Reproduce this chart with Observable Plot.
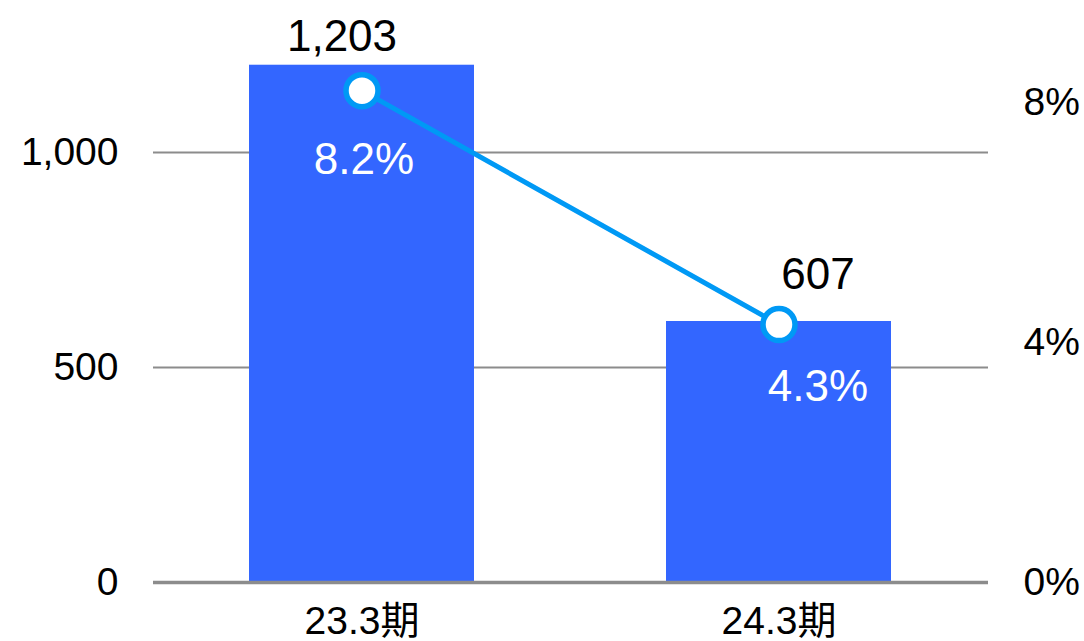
<!DOCTYPE html>
<html>
<head>
<meta charset="utf-8">
<script src="https://cdn.jsdelivr.net/npm/d3@7"></script>
<script src="https://cdn.jsdelivr.net/npm/@observablehq/plot@0.6"></script>
<style>
  html, body { margin: 0; padding: 0; background: #fff; }
</style>
</head>
<body>
<div id="chart"></div>
<script>
// Data
const periods = ["23.3期", "24.3期"];
const profit = [1203, 607];          // left axis (bars)
const marginPct = [8.2, 4.3];        // right axis (line, %)
const leftTicks = [0, 500, 1000];
const pctTicks = [0, 4, 8];

// secondary axis mapping: left units per 1%
const k = 139.5;

const data = periods.map((p, i) => ({
  period: p,
  value: profit[i],
  pct: marginPct[i],
  pctY: marginPct[i] * k
}));

const fmt = d3.format(",");
const blue = "#3366FF";
const sky = "#0099F5";

const chart = Plot.plot({
  width: 1084,
  height: 641,
  marginLeft: 153,
  marginRight: 96,
  marginTop: 20,
  marginBottom: 59,
  style: {
    fontFamily: "'Liberation Sans', Arial, 'Noto Sans CJK JP', sans-serif",
    fontSize: "39px",
    color: "#000",
    background: "#fff"
  },
  x: { domain: periods, paddingInner: 0.46, paddingOuter: 0.23, label: null },
  y: { domain: [0, 1307], label: null },
  marks: [
    Plot.gridY(leftTicks, { stroke: "#8c8c8c", strokeOpacity: 1, strokeWidth: 2 }),
    Plot.barY(data, { x: "period", y: "value", fill: blue }),
    Plot.ruleY([0], { stroke: "#8c8c8c", strokeWidth: 3.5 }),
    Plot.axisY(leftTicks, { tickSize: 0, tickPadding: 35, tickFormat: fmt, label: null }),
    Plot.axisY(pctTicks.map(d => d * k), {
      anchor: "right", tickSize: 0, tickPadding: 35,
      tickFormat: d => Math.round(d / k) + "%", label: null
    }),
    Plot.axisX({ tickSize: 0, tickPadding: 24, label: null }),
    Plot.line(data, { x: "period", y: "pctY", stroke: sky, strokeWidth: 5 }),
    Plot.dot(data, { x: "period", y: "pctY", r: 16, fill: "white", stroke: sky, strokeWidth: 5.5 }),
    // value labels
    Plot.text(data.slice(0, 1), { x: "period", y: "value", text: d => fmt(d.value), lineAnchor: "bottom", dy: -14, dx: -20, fontSize: 44, fill: "#000" }),
    Plot.text(data.slice(1, 2), { x: "period", y: "value", text: d => fmt(d.value), lineAnchor: "bottom", dy: -32, dx: 39, fontSize: 44, fill: "#000" }),
    // percent labels
    Plot.text(data.slice(0, 1), { x: "period", y: "pctY", text: d => d.pct.toFixed(1) + "%", lineAnchor: "bottom", dy: 83, dx: 2, fontSize: 44, fill: "#fff" }),
    Plot.text(data.slice(1, 2), { x: "period", y: "pctY", text: d => d.pct.toFixed(1) + "%", lineAnchor: "bottom", dy: 76, dx: 39, fontSize: 44, fill: "#fff" })
  ]
});

document.getElementById("chart").appendChild(chart);
</script>
</body>
</html>
